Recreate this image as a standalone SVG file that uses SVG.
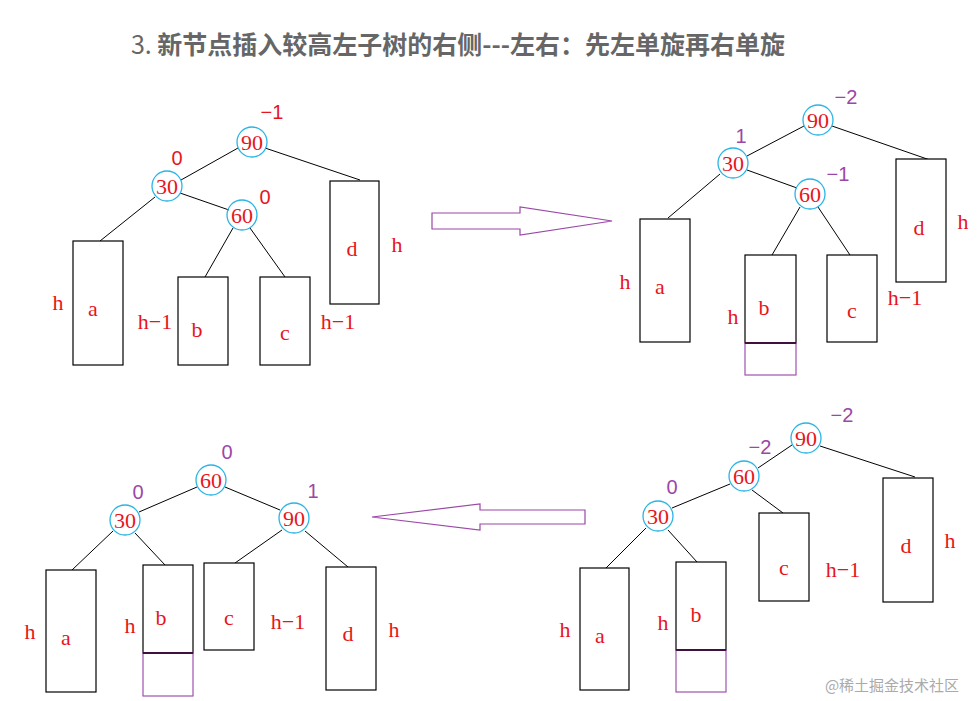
<svg xmlns="http://www.w3.org/2000/svg" width="977" height="701" viewBox="0 0 977 701">
<style>
.t{font-family:"Liberation Serif",serif;font-size:22px;fill:#e8141c;text-anchor:middle}
.n{font-family:"Liberation Serif",serif;font-size:22px;fill:#e8141c;text-anchor:middle}
.p{font-family:"Liberation Sans",sans-serif;font-size:20px;fill:#9b47a8;text-anchor:middle}
.r{font-family:"Liberation Sans",sans-serif;font-size:20px;fill:#e8141c;text-anchor:middle}
.c{fill:none;stroke:#2ab4e6;stroke-width:1.3}
.b{fill:#fff;stroke:#000;stroke-width:1.2}
.x{fill:none;stroke:#a050b0;stroke-width:1.2}
.l{stroke:#000;stroke-width:1}
.ar{fill:#fff;stroke:#9b47a8;stroke-width:1.2}
</style>
<rect width="977" height="701" fill="#fff"/>
<text x="458" y="54" font-family="'Noto Sans CJK SC',sans-serif" font-size="25" fill="#666" text-anchor="middle" font-weight="bold"><tspan font-weight="normal">3. </tspan>新节点插入较高左子树的右侧---左右：先左单旋再右单旋</text>
<g id="connectors">
<line class="l" x1="238" y1="148" x2="181" y2="180"/><line class="l" x1="265" y1="148" x2="360" y2="180"/>
<line class="l" x1="180" y1="193" x2="229" y2="210"/><line class="l" x1="155" y1="197" x2="100" y2="241"/>
<line class="l" x1="233" y1="228" x2="205" y2="277"/><line class="l" x1="250" y1="228" x2="285" y2="277"/>
<line class="l" x1="804" y1="126" x2="747" y2="156"/><line class="l" x1="832" y1="126" x2="930" y2="160"/>
<line class="l" x1="747" y1="170" x2="797" y2="188"/><line class="l" x1="720" y1="174" x2="668" y2="218"/>
<line class="l" x1="800" y1="207" x2="772" y2="255"/><line class="l" x1="818" y1="207" x2="850" y2="255"/>
<line class="l" x1="792" y1="445" x2="758" y2="468"/><line class="l" x1="820" y1="446" x2="915" y2="477"/>
<line class="l" x1="730" y1="484" x2="672" y2="508"/><line class="l" x1="752" y1="490" x2="783" y2="513"/>
<line class="l" x1="646" y1="528" x2="606" y2="568"/><line class="l" x1="668" y1="530" x2="697" y2="562"/>
<line class="l" x1="197" y1="487" x2="139" y2="512"/><line class="l" x1="225" y1="487" x2="280" y2="510"/>
<line class="l" x1="113" y1="531" x2="72" y2="570"/><line class="l" x1="135" y1="533" x2="165" y2="565"/>
<line class="l" x1="282" y1="530" x2="235" y2="563"/><line class="l" x1="305" y1="531" x2="348" y2="567"/>
<path class="ar" d="M432,213 H520 V207 L612,221 L520,235 V229 H432 Z"/>
<path class="ar" d="M585,510 H480 V504 L372,517 L480,530 V524 H585 Z"/>
</g>
<g id="tree1">
<rect class="b" x="73" y="241" width="50" height="124"/><rect class="b" x="178" y="277" width="50" height="88"/>
<rect class="b" x="260" y="277" width="50" height="88"/><rect class="b" x="330" y="181" width="49" height="123"/>
<circle class="c" cx="252" cy="142" r="15"/><circle class="c" cx="167" cy="186" r="15"/><circle class="c" cx="242" cy="215" r="15"/>
<text class="n" x="252" y="150">90</text><text class="n" x="167" y="194">30</text><text class="n" x="242" y="223">60</text>
<text class="r" x="272" y="119">−1</text><text class="r" x="177" y="165">0</text><text class="r" x="265" y="204">0</text>
<text class="t" x="58" y="310">h</text><text class="t" x="93" y="316">a</text><text class="t" x="155" y="329">h−1</text>
<text class="t" x="197" y="337">b</text><text class="t" x="285" y="340">c</text><text class="t" x="338" y="329">h−1</text>
<text class="t" x="352" y="256">d</text><text class="t" x="397" y="252">h</text>
</g>
<g id="tree2">
<rect class="b" x="640" y="219" width="50" height="123"/><rect class="b" x="745" y="255" width="51" height="88"/>
<rect class="x" x="745" y="343" width="51" height="32"/><line x1="745" y1="343" x2="796" y2="343" stroke="#401040" stroke-width="2"/>
<rect class="b" x="827" y="255" width="50" height="87"/><rect class="b" x="896" y="159" width="50" height="123"/>
<circle class="c" cx="818" cy="120" r="15"/><circle class="c" cx="733" cy="163" r="15"/><circle class="c" cx="810" cy="194" r="15"/>
<text class="n" x="818" y="128">90</text><text class="n" x="733" y="171">30</text><text class="n" x="810" y="202">60</text>
<text class="p" x="846" y="104">−2</text><text class="p" x="741" y="143">1</text><text class="p" x="838" y="181">−1</text>
<text class="t" x="625" y="289">h</text><text class="t" x="660" y="294">a</text><text class="t" x="733" y="324">h</text>
<text class="t" x="764" y="315">b</text><text class="t" x="852" y="318">c</text><text class="t" x="905" y="305">h−1</text>
<text class="t" x="919" y="235">d</text><text class="t" x="963" y="229">h</text>
</g>
<g id="tree3">
<rect class="b" x="580" y="568" width="49" height="122"/><rect class="b" x="676" y="562" width="50" height="88"/>
<rect class="x" x="676" y="650" width="50" height="42"/><line x1="676" y1="650" x2="726" y2="650" stroke="#401040" stroke-width="2"/>
<rect class="b" x="759" y="513" width="50" height="88"/><rect class="b" x="883" y="478" width="50" height="124"/>
<circle class="c" cx="806" cy="438" r="15"/><circle class="c" cx="744" cy="476" r="15"/><circle class="c" cx="658" cy="516" r="15"/>
<text class="n" x="806" y="446">90</text><text class="n" x="744" y="484">60</text><text class="n" x="658" y="524">30</text>
<text class="p" x="842" y="422">−2</text><text class="p" x="760" y="454">−2</text><text class="p" x="672" y="494">0</text>
<text class="t" x="565" y="637">h</text><text class="t" x="600" y="643">a</text><text class="t" x="663" y="630">h</text>
<text class="t" x="696" y="622">b</text><text class="t" x="784" y="575">c</text><text class="t" x="843" y="577">h−1</text>
<text class="t" x="906" y="553">d</text><text class="t" x="950" y="548">h</text>
</g>
<g id="tree4">
<rect class="b" x="46" y="570" width="50" height="122"/><rect class="b" x="143" y="565" width="50" height="88"/>
<rect class="x" x="143" y="653" width="50" height="43"/><line x1="143" y1="653" x2="193" y2="653" stroke="#401040" stroke-width="2"/>
<rect class="b" x="204" y="563" width="50" height="87"/><rect class="b" x="326" y="567" width="50" height="123"/>
<circle class="c" cx="211" cy="480" r="15"/><circle class="c" cx="125" cy="520" r="15"/><circle class="c" cx="294" cy="518" r="15"/>
<text class="n" x="211" y="488">60</text><text class="n" x="125" y="528">30</text><text class="n" x="294" y="526">90</text>
<text class="p" x="227" y="459">0</text><text class="p" x="138" y="499">0</text><text class="p" x="313" y="498">1</text>
<text class="t" x="30" y="639">h</text><text class="t" x="66" y="645">a</text><text class="t" x="130" y="633">h</text>
<text class="t" x="161" y="625">b</text><text class="t" x="229" y="625">c</text><text class="t" x="288" y="629">h−1</text>
<text class="t" x="348" y="641">d</text><text class="t" x="394" y="637">h</text>
</g>
<text x="892" y="691" font-family="'Noto Sans CJK SC',sans-serif" font-size="15" fill="#aaa" text-anchor="middle">@稀土掘金技术社区</text>
</svg>
